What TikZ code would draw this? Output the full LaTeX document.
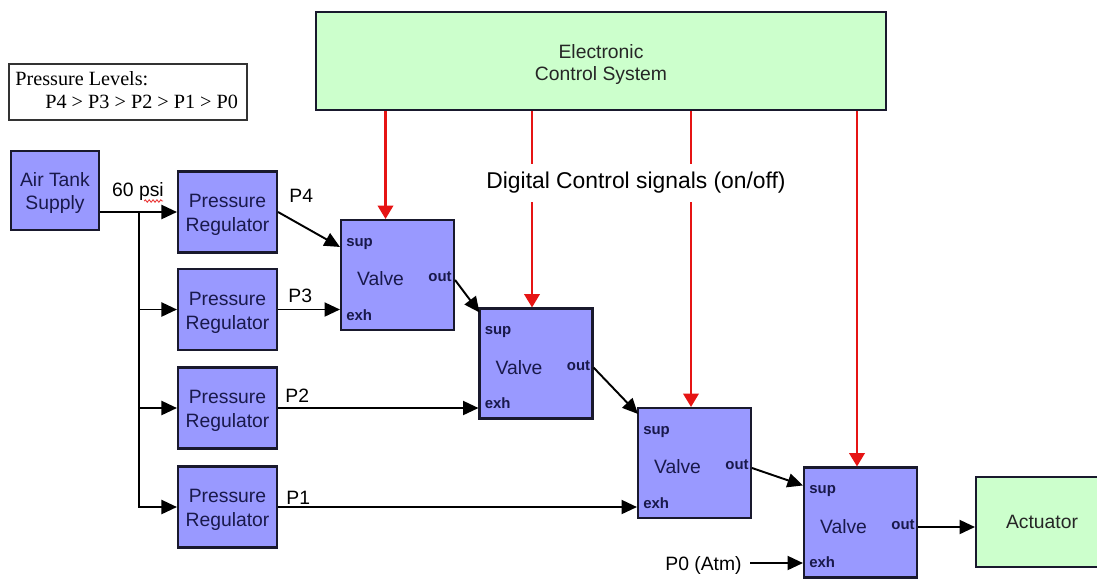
\documentclass[tikz,border=0pt]{standalone}
\usepackage{fontspec}
\setmainfont{Liberation Sans}
\newfontfamily\legendfont{Liberation Serif}
\usetikzlibrary{arrows.meta,calc,decorations.pathmorphing}
\definecolor{boxblue}{RGB}{153,153,255}
\definecolor{boxgreen}{RGB}{204,255,204}
\definecolor{edgecol}{RGB}{25,25,45}
\definecolor{navy}{RGB}{25,25,75}
\definecolor{sigred}{RGB}{230,20,20}
\newcommand\mkvalve[2]{%
  \node[valvebox] (#1) at #2 {};
  \node[lbl,text=navy] (#1t) at ($(#1.center)+(-17,4)$) {Valve};
  \node[port,anchor=west] (#1s) at ($(#1.north west)+(6,25)$) {sup};
  \node[port,anchor=west] (#1e) at ($(#1.south west)+(6,-16)$) {exh};
  \node[port,anchor=east] (#1o) at ($(#1.east)+(-3,2)$) {out};
}
\newcommand\mkreg[2]{%
  \node[regbox] (#1) at #2 {};
  \node[boxtext] (#1t) at ($(#1.center)+(0,3)$) {Pressure\\Regulator};
}
\begin{document}
\begin{tikzpicture}[x=0.02cm,y=-0.02cm,
  bluebox/.style={draw=edgecol,line width=1.2pt,fill=boxblue,inner sep=0pt},
  boxtext/.style={text=navy,align=center,inner sep=0pt,font=\fontsize{11}{13.6}\selectfont},
  greenbox/.style={draw=edgecol,line width=1.2pt,fill=boxgreen,text=black!85,align=center,inner sep=0pt,font=\fontsize{11}{13}\selectfont},
  greentext/.style={text=black!85,align=center,inner sep=0pt,font=\fontsize{11}{13}\selectfont},
  regbox/.style={bluebox,minimum width=1.98cm,minimum height=1.62cm},
  valvebox/.style={bluebox,minimum width=2.26cm,minimum height=2.2cm},
  port/.style={font=\bfseries\fontsize{8.5}{10}\selectfont,text=navy,inner sep=0pt},
  lbl/.style={font=\fontsize{11}{13}\selectfont,inner sep=0pt},
  flow/.style={line width=1.1pt,draw=black,-{Triangle[length=8.8pt,width=8pt]}},
  signal/.style={line width=1.2pt,draw=sigred,-{Triangle[length=7.6pt,width=8.8pt]}},
]
\useasboundingbox (0,0) rectangle (1097,579);
\fill[white] (0,0) rectangle (1097,579);

% legend
\node[draw=black!80,line width=0.7pt,minimum width=4.76cm,minimum height=1.12cm,inner sep=0pt] (legend) at (128,92) {};
\node[anchor=west,inner sep=0pt,font=\legendfont\fontsize{11.5}{13}\selectfont] (lg1) at (15,79) {Pressure Levels:};
\node[anchor=west,inner sep=0pt,font=\legendfont\fontsize{11.5}{13}\selectfont] (lg2) at (45,102) {P4 > P3 > P2 > P1 > P0};

% boxes
\node[greenbox,minimum width=11.4cm,minimum height=1.96cm] (ecs) at (601,61) {};
\node[greentext] (ecst) at (601,64.5) {Electronic\\Control System};
\node[bluebox,minimum width=1.76cm,minimum height=1.58cm] (air) at (55,190.5) {};
\node[boxtext] (airt) at (55,193) {Air Tank\\Supply};
\mkreg{reg1}{(227.5,212)}
\mkreg{reg2}{(227.5,309.5)}
\mkreg{reg3}{(227.5,408)}
\mkreg{reg4}{(227.5,507)}
\mkvalve{v1}{(397.5,275)}
\mkvalve{v2}{(536,363.5)}
\mkvalve{v3}{(694.5,463)}
\mkvalve{v4}{(860.5,522.5)}
\node[greenbox,minimum width=2.64cm,minimum height=1.8cm] (act) at (1042,522) {Actuator};

% supply distribution
\coordinate (j) at (139,212);
\draw[flow] (air.east |- reg1.west) -- (reg1.west);
\draw[flow] (j) |- (reg4.west);
\draw[flow] (j |- reg2.west) -- (reg2.west);
\draw[flow] (j |- reg3.west) -- (reg3.west);
\node[lbl,anchor=base] (psi) at (138,196) {60 psi};
\draw[sigred!85,line width=0.5pt,decorate,decoration={snake,amplitude=0.7pt,segment length=2.2pt}]
  ($(psi.base east)+(-20,5)$) -- ($(psi.base east)+(-1,5)$);

% regulator labels
\node[lbl,anchor=base west] (p4) at ($(reg1.east)+(11,-10)$) {P4};
\node[lbl,anchor=base west] (p3) at ($(reg2.east)+(10,-7.5)$) {P3};
\node[lbl,anchor=base west] (p2) at ($(reg3.east)+(7,-6)$) {P2};
\node[lbl,anchor=base west] (p1) at ($(reg4.east)+(8,-2.5)$) {P1};
\node[lbl,anchor=base east] (p0) at (742,570) {P0 (Atm)};

% pneumatic connections
\draw[flow] (reg1.east) -- ($(v1.north west)+(0,28)$);
\draw[flow] (reg2.east) -- (v1.west |- reg2.east);
\draw[flow] ($(v1.east)+(0,5)$) -- ($(v2.north west)+(1,5)$);
\draw[flow] (reg3.east) -- (v2.west |- reg3.east);
\draw[flow] ($(v2.east)+(0,4)$) -- ($(v3.north west)+(1,7)$);
\draw[flow] (reg4.east) -- (v3.west |- reg4.east);
\draw[flow] ($(v3.east)+(0,5)$) -- ($(v4.north west)+(0,19)$);
\coordinate (p0s) at ($(p0.base east)+(8,-7)$);
\draw[flow] (p0s) -- (v4.west |- p0s);
\coordinate (v4out) at ($(v4.east)+(0,4.5)$);
\draw[flow] (v4out) -- (act.west |- v4out);

% control signals
\coordinate (s1) at ($(v1.north)+(-12,0)$);
\coordinate (s2) at ($(v2.north)+(-4,0)$);
\coordinate (s3) at ($(v3.north)+(-3.5,0)$);
\coordinate (s4) at ($(v4.north)+(-3.5,0)$);
\draw[signal] (s1 |- ecs.south) -- (s1);
\draw[signal] (s2 |- ecs.south) -- (s2);
\draw[signal] (s3 |- ecs.south) -- (s3);
\draw[signal] (s4 |- ecs.south) -- (s4);
\node[fill=white,inner xsep=3pt,inner ysep=5pt,font=\fontsize{13}{15}\selectfont] (dig) at (636,183) {Digital Control signals (on/off)};
\end{tikzpicture}
\end{document}
